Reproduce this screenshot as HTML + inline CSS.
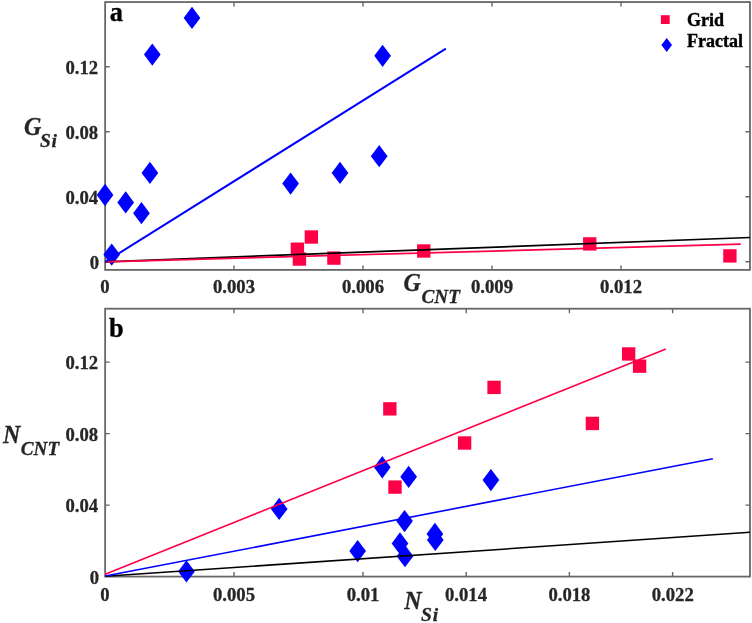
<!DOCTYPE html><html><head><meta charset="utf-8"><style>html,body{margin:0;padding:0;background:#fff}svg{display:block;will-change:transform}text{font-family:"Liberation Serif",serif;font-weight:bold;fill:#262626;stroke:#262626;stroke-width:0.3}</style></head><body>
<svg width="752" height="623" viewBox="0 0 752 623">
<rect width="752" height="623" fill="#fff"/>
<rect x="105.15" y="2.05" width="644.8000000000001" height="267.84999999999997" fill="none" stroke="#666666" stroke-width="1.8"/>
<path d="M234 269.9v-4.5M234 2.05v4.5" stroke="#666666" stroke-width="1.4" fill="none"/>
<path d="M363 269.9v-4.5M363 2.05v4.5" stroke="#666666" stroke-width="1.4" fill="none"/>
<path d="M492 269.9v-4.5M492 2.05v4.5" stroke="#666666" stroke-width="1.4" fill="none"/>
<path d="M621 269.9v-4.5M621 2.05v4.5" stroke="#666666" stroke-width="1.4" fill="none"/>
<path d="M105.15 261.7h4.5M749.95 261.7h-4.5" stroke="#666666" stroke-width="1.4" fill="none"/>
<path d="M105.15 196.7h4.5M749.95 196.7h-4.5" stroke="#666666" stroke-width="1.4" fill="none"/>
<path d="M105.15 131.75h4.5M749.95 131.75h-4.5" stroke="#666666" stroke-width="1.4" fill="none"/>
<path d="M105.15 66.76h4.5M749.95 66.76h-4.5" stroke="#666666" stroke-width="1.4" fill="none"/>
<rect x="105.15" y="308.7" width="644.8000000000001" height="267.90000000000003" fill="none" stroke="#666666" stroke-width="1.8"/>
<path d="M234 576.6v-4.5M234 308.7v4.5" stroke="#666666" stroke-width="1.4" fill="none"/>
<path d="M363 576.6v-4.5M363 308.7v4.5" stroke="#666666" stroke-width="1.4" fill="none"/>
<path d="M466.2 576.6v-4.5M466.2 308.7v4.5" stroke="#666666" stroke-width="1.4" fill="none"/>
<path d="M569.4 576.6v-4.5M569.4 308.7v4.5" stroke="#666666" stroke-width="1.4" fill="none"/>
<path d="M672.6 576.6v-4.5M672.6 308.7v4.5" stroke="#666666" stroke-width="1.4" fill="none"/>
<path d="M105.15 505.1h4.5M749.95 505.1h-4.5" stroke="#666666" stroke-width="1.4" fill="none"/>
<path d="M105.15 433.6h4.5M749.95 433.6h-4.5" stroke="#666666" stroke-width="1.4" fill="none"/>
<path d="M105.15 362.15h4.5M749.95 362.15h-4.5" stroke="#666666" stroke-width="1.4" fill="none"/>
<rect x="304.675" y="230.325" width="13.35" height="13.35" fill="#ff0046"/>
<rect x="290.72499999999997" y="242.52499999999998" width="13.35" height="13.35" fill="#ff0046"/>
<rect x="292.72499999999997" y="252.375" width="13.35" height="13.35" fill="#ff0046"/>
<rect x="327.22499999999997" y="251.425" width="13.35" height="13.35" fill="#ff0046"/>
<rect x="417.075" y="244.325" width="13.35" height="13.35" fill="#ff0046"/>
<rect x="583.075" y="237.225" width="13.35" height="13.35" fill="#ff0046"/>
<rect x="723.225" y="249.225" width="13.35" height="13.35" fill="#ff0046"/>
<polygon points="152.3,43.45 160.65,54.6 152.3,65.75 143.95000000000002,54.6" fill="#0000ff"/>
<polygon points="192.0,6.749999999999998 200.35,17.9 192.0,29.049999999999997 183.65,17.9" fill="#0000ff"/>
<polygon points="105.05,183.85 113.39999999999999,195.0 105.05,206.15 96.7,195.0" fill="#0000ff"/>
<polygon points="125.7,191.25 134.05,202.4 125.7,213.55 117.35000000000001,202.4" fill="#0000ff"/>
<polygon points="141.45,202.04999999999998 149.79999999999998,213.2 141.45,224.35 133.1,213.2" fill="#0000ff"/>
<polygon points="149.9,161.75 158.25,172.9 149.9,184.05 141.55,172.9" fill="#0000ff"/>
<polygon points="111.7,243.45 120.05,254.6 111.7,265.75 103.35000000000001,254.6" fill="#0000ff"/>
<polygon points="290.6,172.45 298.95000000000005,183.6 290.6,194.75 282.25,183.6" fill="#0000ff"/>
<polygon points="340.0,161.75 348.35,172.9 340.0,184.05 331.65,172.9" fill="#0000ff"/>
<polygon points="379.2,145.04999999999998 387.55,156.2 379.2,167.35 370.84999999999997,156.2" fill="#0000ff"/>
<polygon points="382.6,44.65 390.95000000000005,55.8 382.6,66.95 374.25,55.8" fill="#0000ff"/>
<line x1="105.2" y1="261.8" x2="749.9" y2="237.5" stroke="#000" stroke-width="1.7"/>
<line x1="105.2" y1="261.8" x2="740.8" y2="244.1" stroke="#ff0046" stroke-width="1.7"/>
<line x1="105.2" y1="261.9" x2="445.9" y2="48.6" stroke="#0000ff" stroke-width="2.0"/>
<rect x="383.175" y="402.175" width="13.35" height="13.35" fill="#ff0046"/>
<rect x="487.375" y="380.72499999999997" width="13.35" height="13.35" fill="#ff0046"/>
<rect x="457.925" y="436.325" width="13.35" height="13.35" fill="#ff0046"/>
<rect x="621.975" y="347.275" width="13.35" height="13.35" fill="#ff0046"/>
<rect x="632.9250000000001" y="359.525" width="13.35" height="13.35" fill="#ff0046"/>
<rect x="585.725" y="416.775" width="13.35" height="13.35" fill="#ff0046"/>
<rect x="388.325" y="480.425" width="13.35" height="13.35" fill="#ff0046"/>
<polygon points="186.45,560.25 194.79999999999998,571.4 186.45,582.55 178.1,571.4" fill="#0000ff"/>
<polygon points="279.2,497.75 287.55,508.9 279.2,520.05 270.84999999999997,508.9" fill="#0000ff"/>
<polygon points="357.65,539.9 366.0,551.05 357.65,562.1999999999999 349.29999999999995,551.05" fill="#0000ff"/>
<polygon points="382.3,456.1 390.65000000000003,467.25 382.3,478.4 373.95,467.25" fill="#0000ff"/>
<polygon points="408.65,465.65000000000003 417.0,476.8 408.65,487.95 400.29999999999995,476.8" fill="#0000ff"/>
<polygon points="490.9,468.95000000000005 499.25,480.1 490.9,491.25 482.54999999999995,480.1" fill="#0000ff"/>
<polygon points="404.55,509.9 412.90000000000003,521.05 404.55,532.1999999999999 396.2,521.05" fill="#0000ff"/>
<polygon points="434.9,522.75 443.25,533.9 434.9,545.05 426.54999999999995,533.9" fill="#0000ff"/>
<polygon points="435.3,528.75 443.65000000000003,539.9 435.3,551.05 426.95,539.9" fill="#0000ff"/>
<polygon points="400.0,532.25 408.35,543.4 400.0,554.55 391.65,543.4" fill="#0000ff"/>
<polygon points="405.0,545.0500000000001 413.35,556.2 405.0,567.35 396.65,556.2" fill="#0000ff"/>
<line x1="105.2" y1="576.3" x2="749.9" y2="532.3" stroke="#000" stroke-width="1.55"/>
<line x1="105.2" y1="576.05" x2="712.9" y2="458.75" stroke="#0000ff" stroke-width="1.6"/>
<line x1="105.2" y1="574.2" x2="665.9" y2="348.95" stroke="#ff0046" stroke-width="1.6"/>
<rect x="660.9" y="15.200000000000001" width="8.8" height="8.8" fill="#ff0046"/>
<polygon points="666.7,37.9 672.0,44.9 666.7,51.9 661.4000000000001,44.9" fill="#0000ff"/>
<text x="687" y="25.75" font-size="18" style="fill:#000;stroke:#000;stroke-width:0.4">Grid</text>
<text x="687" y="47" font-size="18" style="fill:#000;stroke:#000;stroke-width:0.4">Fractal</text>
<text x="105" y="293.15" font-size="18.7" text-anchor="middle">0</text>
<text x="234" y="293.15" font-size="18.7" text-anchor="middle">0.003</text>
<text x="363" y="293.15" font-size="18.7" text-anchor="middle">0.006</text>
<text x="492" y="293.15" font-size="18.7" text-anchor="middle">0.009</text>
<text x="621" y="293.15" font-size="18.7" text-anchor="middle">0.012</text>
<text x="105" y="601.0" font-size="18.7" text-anchor="middle">0</text>
<text x="234" y="601.0" font-size="18.7" text-anchor="middle">0.005</text>
<text x="363" y="601.0" font-size="18.7" text-anchor="middle">0.01</text>
<text x="466" y="601.0" font-size="18.7" text-anchor="middle">0.014</text>
<text x="569.4" y="601.0" font-size="18.7" text-anchor="middle">0.018</text>
<text x="672.7" y="601.0" font-size="18.7" text-anchor="middle">0.022</text>
<text x="99.2" y="268.7" font-size="18.7" text-anchor="end">0</text>
<text x="98.2" y="203.7" font-size="18.7" text-anchor="end">0.04</text>
<text x="98.2" y="138.75" font-size="18.7" text-anchor="end">0.08</text>
<text x="98.2" y="73.76" font-size="18.7" text-anchor="end">0.12</text>
<text x="99.2" y="583.6" font-size="18.7" text-anchor="end">0</text>
<text x="98.2" y="512.1" font-size="18.7" text-anchor="end">0.04</text>
<text x="98.2" y="440.6" font-size="18.7" text-anchor="end">0.08</text>
<text x="98.2" y="369.15" font-size="18.7" text-anchor="end">0.12</text>
<text x="109.8" y="20.7" font-size="26.4" style="fill:#000;stroke:#000">a</text>
<text x="109.1" y="337.4" font-size="26.4" style="fill:#000;stroke:#000">b</text>
<text transform="translate(24,135) scale(1,1.04)" font-size="24" font-style="italic">G</text>
<text x="39.9" y="146.9" font-size="19.5" font-style="italic" letter-spacing="0.8">Si</text>
<text transform="translate(403.5,291.2) scale(1,1.04)" font-size="24" font-style="italic">G</text>
<text x="421.5" y="303.2" font-size="19.2" font-style="italic" letter-spacing="0">CNT</text>
<text transform="translate(3,442.6) scale(1,1.04)" font-size="24" font-style="italic">N</text>
<text x="20.8" y="455.1" font-size="19.2" font-style="italic" letter-spacing="0">CNT</text>
<text transform="translate(404.25,608.8) scale(1,1.04)" font-size="24" font-style="italic">N</text>
<text x="421" y="620.5" font-size="19.5" font-style="italic" letter-spacing="0.8">Si</text>
</svg></body></html>
